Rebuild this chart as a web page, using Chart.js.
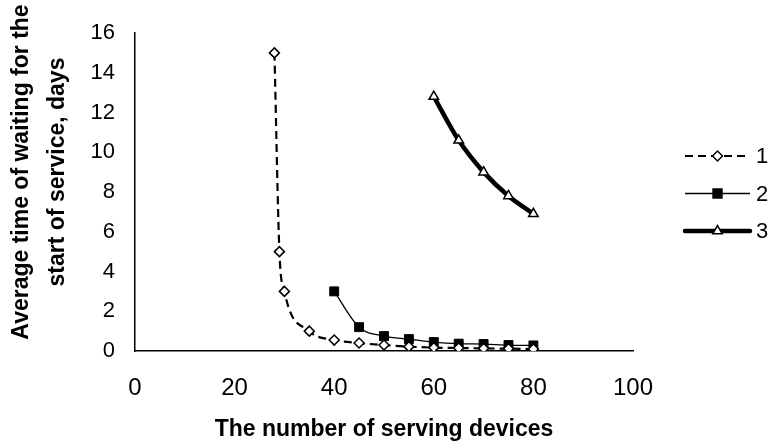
<!DOCTYPE html>
<html>
<head>
<meta charset="utf-8">
<script src="https://cdn.jsdelivr.net/npm/chart.js@4.4.0/dist/chart.umd.min.js"></script>
<style>
  html, body { margin: 0; padding: 0; background: #fff; }
  #wrap { width: 769px; height: 448px; }
</style>
</head>
<body>
<div id="wrap"><canvas id="myChart" width="769" height="448"></canvas></div>
<script>
// serving devices and waiting times
const X1 = [28, 29, 30, 35, 40, 45, 50, 55, 60, 65, 70, 75, 80];
const Y1 = [15, 5, 3, 1, 0.55, 0.4, 0.3, 0.22, 0.17, 0.15, 0.13, 0.12, 0.1];
const X2 = [40, 45, 50, 55, 60, 65, 70, 75, 80];
const Y2 = [3, 1.2, 0.75, 0.6, 0.45, 0.37, 0.35, 0.3, 0.28];
const X3 = [60, 65, 70, 75, 80];
const Y3 = [12.8, 10.6, 9.0, 7.8, 6.9];
const SERIES_NAMES = ['1', '2', '3'];
const X_TITLE = 'The number of serving devices';
const Y_TITLE = ['Average time of waiting for the', 'start of service, days'];

const FONT = 'Arial, "Liberation Sans", sans-serif';

function pts(xs, ys) {
    return xs.map((x, i) => ({ x: x, y: ys[i] }));
}

// y title sits a bit above the middle of the plot in the original, so draw it here
const yTitle = {
    id: 'yTitle',
    afterDraw(chart) {
        const c = chart.ctx;
        c.save();
        c.translate(22, 172);
        c.rotate(-Math.PI / 2);
        c.fillStyle = '#000';
        c.font = 'bold 23px ' + FONT;
        c.textAlign = 'center';
        c.textBaseline = 'middle';
        Y_TITLE.forEach((line, i) => c.fillText(line, 0, i * 36));
        c.restore();
    }
};

// legend drawn by hand: line sample with the marker in the middle
const sideLegend = {
    id: 'sideLegend',
    afterDraw(chart) {
        const c = chart.ctx;
        const x0 = 685, x1 = 750, top = 156, step = 37.5;
        chart.data.datasets.forEach((ds, i) => {
            const y = top + i * step;
            c.save();
            c.strokeStyle = ds.borderColor;
            c.lineWidth = ds.borderWidth;
            c.lineCap = ds.borderWidth > 3 ? 'round' : 'butt';
            c.setLineDash(ds.borderDash || []);
            c.beginPath();
            c.moveTo(x0, y);
            c.lineTo(x1, y);
            c.stroke();
            c.setLineDash([]);
            c.fillStyle = ds.pointBackgroundColor;
            c.strokeStyle = '#000';
            c.lineWidth = 1.5;
            Chart.helpers.drawPoint(c, { pointStyle: ds.pointStyle, radius: ds.pointRadius, borderWidth: 1.5 }, (x0 + x1) / 2, y);
            c.fillStyle = '#000';
            c.font = '22px ' + FONT;
            c.textBaseline = 'middle';
            c.fillText(ds.label, 756, y + 1);
            c.restore();
        });
    }
};

const ctx = document.getElementById('myChart');

new Chart(ctx, {
    type: 'scatter',
    data: {
        datasets: [{
            label: SERIES_NAMES[0],
            data: pts(X1, Y1),
            showLine: true,
            borderColor: '#000',
            borderWidth: 2.2,
            borderDash: [8, 5],
            pointStyle: 'rectRot',
            pointRadius: 5,
            pointBackgroundColor: '#fff',
            pointBorderColor: '#000',
            pointBorderWidth: 1.5,
            cubicInterpolationMode: 'monotone'
        }, {
            label: SERIES_NAMES[1],
            data: pts(X2, Y2),
            showLine: true,
            borderColor: '#000',
            borderWidth: 1.3,
            pointStyle: 'rect',
            pointRadius: 6.3,
            pointBackgroundColor: '#000',
            pointBorderColor: '#000',
            pointBorderWidth: 1,
            cubicInterpolationMode: 'monotone'
        }, {
            label: SERIES_NAMES[2],
            data: pts(X3, Y3),
            showLine: true,
            borderColor: '#000',
            borderWidth: 4.5,
            pointStyle: 'triangle',
            pointRadius: 5.5,
            pointBackgroundColor: '#fff',
            pointBorderColor: '#000',
            pointBorderWidth: 1.5,
            cubicInterpolationMode: 'monotone'
        }]
    },
    options: {
        responsive: false,
        animation: false,
        layout: { padding: { top: 33, right: 136, left: 0, bottom: 0 } },
        plugins: {
            legend: { display: false },
            tooltip: { enabled: false }
        },
        scales: {
            x: {
                type: 'linear',
                min: 0,
                max: 100,
                afterFit: (s) => { s.height = 97; },
                ticks: { stepSize: 20, color: '#000', font: { family: FONT, size: 24 }, padding: 16 },
                grid: { display: false, drawTicks: true, tickLength: 7, tickColor: '#000' },
                border: { color: '#000', width: 1.5 },
                title: { display: true, text: X_TITLE, color: '#000', font: { family: FONT, size: 23, weight: 'bold' }, padding: { top: 4, bottom: 5 } }
            },
            y: {
                min: 0,
                max: 16,
                afterFit: (s) => { s.width = 135; },
                ticks: { stepSize: 2, color: '#000', font: { family: FONT, size: 22 }, padding: 12 },
                grid: { display: false, drawTicks: true, tickLength: 8, tickColor: '#000' },
                border: { color: '#000', width: 1.5 }
            }
        }
    },
    plugins: [sideLegend, yTitle]
});
</script>
</body>
</html>
